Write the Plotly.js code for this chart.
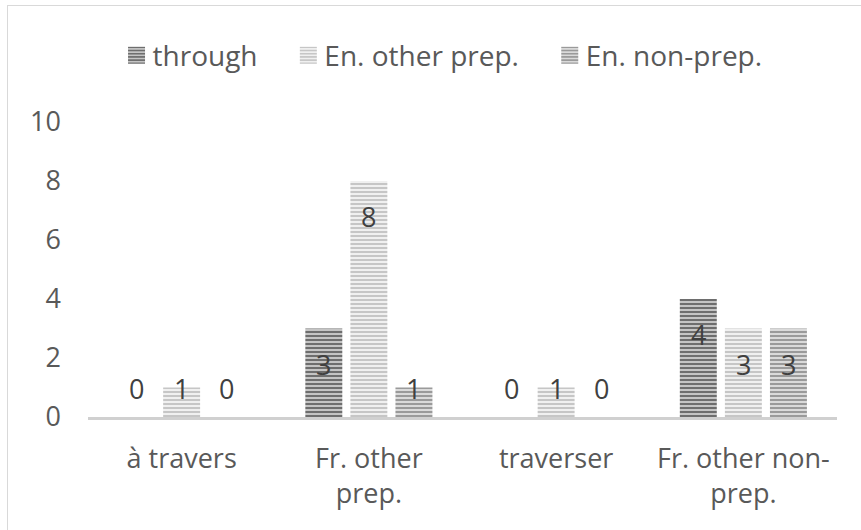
<!DOCTYPE html>
<html>
<head>
<meta charset="utf-8">
<script src="https://cdn.plot.ly/plotly-3.0.1.min.js"></script>
<style>
  html, body { margin: 0; padding: 0; background: #fff; }
  #wrap { position: relative; width: 861px; height: 530px; overflow: hidden; }
  #frame { position: absolute; left: 7px; top: 5px; width: 900px; height: 600px;
           border-left: 1px solid #d9d9d9; border-top: 1px solid #d9d9d9; }
  #chart { position: absolute; left: 0; top: 0; width: 861px; height: 530px; }
</style>
</head>
<body>
<div id="wrap">
  <div id="frame"></div>
  <div id="chart"></div>
</div>
<script>
var categories = ['à travers', 'Fr. other prep.', 'traverser', 'Fr. other non-prep.'];
var tickLabels = ['à travers', 'Fr. other<br>prep.', 'traverser', 'Fr. other non-<br>prep.'];
var seriesNames = ['through', 'En. other prep.', 'En. non-prep.'];
var through = [0, 3, 0, 4];
var otherPrep = [1, 8, 1, 3];
var nonPrep = [0, 1, 0, 3];
var yTicks = [0, 2, 4, 6, 8, 10];

var FONT = 'Open Sans, sans-serif';
var FS = 27;
var seriesValues = [through, otherPrep, nonPrep];
var styles = [
  {bg: '#c4c4c4', fg: '#6e6e6e'},
  {bg: '#f0f0f0', fg: '#c6c6c6'},
  {bg: '#dadada', fg: '#9a9a9a'}
];
var PAD = '\u00a0\u00a0\u00a0';

var traces = seriesValues.map(function (vals, i) {
  return {
    type: 'bar',
    name: seriesNames[i] + (i < seriesNames.length - 1 ? PAD : ''),
    x: categories,
    y: vals,
    marker: {
      color: styles[i].bg,
      line: {width: 0},
      pattern: {shape: '-', fgcolor: styles[i].fg, bgcolor: styles[i].bg,
                size: 4, solidity: 0.5, fillmode: 'replace'}
    },
    hoverinfo: 'skip'
  };
});

// data labels (Excel "inside end" style)
var annotations = [];
var offsets = [-0.2403, 0, 0.2403];
seriesValues.forEach(function (vals, i) {
  vals.forEach(function (v, j) {
    annotations.push({
      x: j + offsets[i], y: Math.max(v - 1.22, 0.97), xref: 'x', yref: 'y',
      text: String(v), showarrow: false, yanchor: 'middle', xanchor: 'center',
      font: {family: FONT, size: FS, color: '#404040'}
    });
  });
});

var layout = {
  width: 861, height: 530,
  margin: {l: 88, r: 24, t: 122, b: 113, pad: 0},
  paper_bgcolor: 'rgba(0,0,0,0)',
  plot_bgcolor: 'rgba(0,0,0,0)',
  font: {family: FONT, size: FS, color: '#595959'},
  barmode: 'group',
  bargap: 0.278,
  bargroupgap: 0.18,
  showlegend: true,
  legend: {orientation: 'h', x: 0.47, xanchor: 'center', y: 1.225, yanchor: 'middle',
           font: {family: FONT, size: 28, color: '#595959'}, itemwidth: 30,
           traceorder: 'normal'},
  xaxis: {
    type: 'category',
    tickvals: categories, ticktext: tickLabels,
    showline: true, linecolor: '#d0d0d0', linewidth: 2.5,
    showgrid: false, zeroline: false, ticks: '',
    ticklabelstandoff: 16,
    tickfont: {family: FONT, size: FS, color: '#595959'}
  },
  yaxis: {
    range: [0, 10], tickvals: yTicks, ticktext: yTicks.map(String),
    showline: false, showgrid: false, zeroline: false, ticks: '',
    ticklabelstandoff: 26,
    tickfont: {family: FONT, size: FS, color: '#595959'}
  },
  annotations: annotations
};

Plotly.newPlot('chart', traces, layout, {staticPlot: true, displayModeBar: false}).then(function (gd) {
  // enlarge legend swatches and bring them closer to their labels
  var paths = gd.querySelectorAll('.legend g.legendpoints path');
  paths.forEach(function (p) {
    var orig = p.getAttribute('transform') || '';
    p.setAttribute('d', 'M8.5,8.5H-8.5V-8.5H8.5Z');
    p.setAttribute('transform', (orig + ' translate(4,0)').trim());
  });
});
</script>
</body>
</html>
